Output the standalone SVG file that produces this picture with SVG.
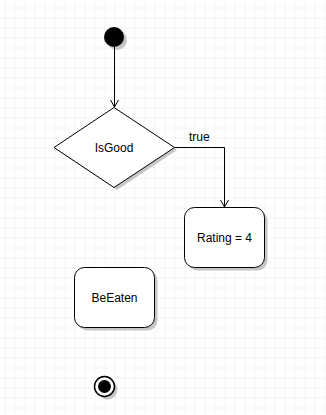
<svg xmlns="http://www.w3.org/2000/svg" width="326" height="415" viewBox="0 0 326 415">
<defs>
<pattern id="grid" x="4" y="7" width="10" height="10" patternUnits="userSpaceOnUse">
<path d="M0 0H10M0 0V10" fill="none" stroke="#ebebeb" stroke-width="1"/>
</pattern>
<marker id="open" markerWidth="12" markerHeight="12" refX="10" refY="6" orient="auto" markerUnits="userSpaceOnUse">
<path d="M3 2L10 6L3 10" fill="none" stroke="#000" stroke-width="1"/>
</marker>
<style>
.shape{fill:#fff;stroke:#000;stroke-width:1}
.shadow{fill:#999;opacity:0.55}
.lbl{font-family:"Liberation Sans",Arial,sans-serif;font-size:12px;fill:#000}
.edge{fill:none;stroke:#000;stroke-width:1}
</style>
</defs>
<rect x="0" y="0" width="326" height="415" fill="#fff"/>
<rect x="0" y="0" width="326" height="415" fill="url(#grid)" transform="translate(0.5 0.5)"/>
<g id="start">
<circle class="shadow" cx="117" cy="40" r="10"/>
<circle cx="114" cy="37" r="10" fill="#000"/>
</g>
<g id="isgood">
<path class="shadow" d="M117 111L177 150L117 190L57 150Z"/>
<path class="shape" d="M114 107.5L174.5 147.5L114 187.5L54 147.5Z"/>
<text class="lbl" x="114" y="151.5" text-anchor="middle">IsGood</text>
</g>
<g id="rating">
<rect class="shadow" x="187.5" y="210.5" width="80" height="60" rx="10"/>
<rect class="shape" x="184.5" y="207.5" width="80" height="60" rx="10"/>
<text class="lbl" x="224.5" y="242" text-anchor="middle">Rating = 4</text>
</g>
<g id="beeaten">
<rect class="shadow" x="77.5" y="270.5" width="80" height="60" rx="10"/>
<rect class="shape" x="74.5" y="267.5" width="80" height="60" rx="10"/>
<text class="lbl" x="114.5" y="302" text-anchor="middle">BeEaten</text>
</g>
<g id="end">
<circle class="shadow" cx="107.5" cy="389.5" r="10"/>
<circle cx="104.5" cy="386.5" r="10" fill="#fff" stroke="#000" stroke-width="1.5"/>
<circle cx="104.5" cy="386.5" r="6.5" fill="#000"/>
</g>
<g id="connectors">
<path class="edge" d="M114.5 47V107" marker-end="url(#open)"/>
<path class="edge" d="M174.5 147.5H224.5V207" marker-end="url(#open)"/>
<text class="lbl" x="189" y="141">true</text>
</g>
</svg>
